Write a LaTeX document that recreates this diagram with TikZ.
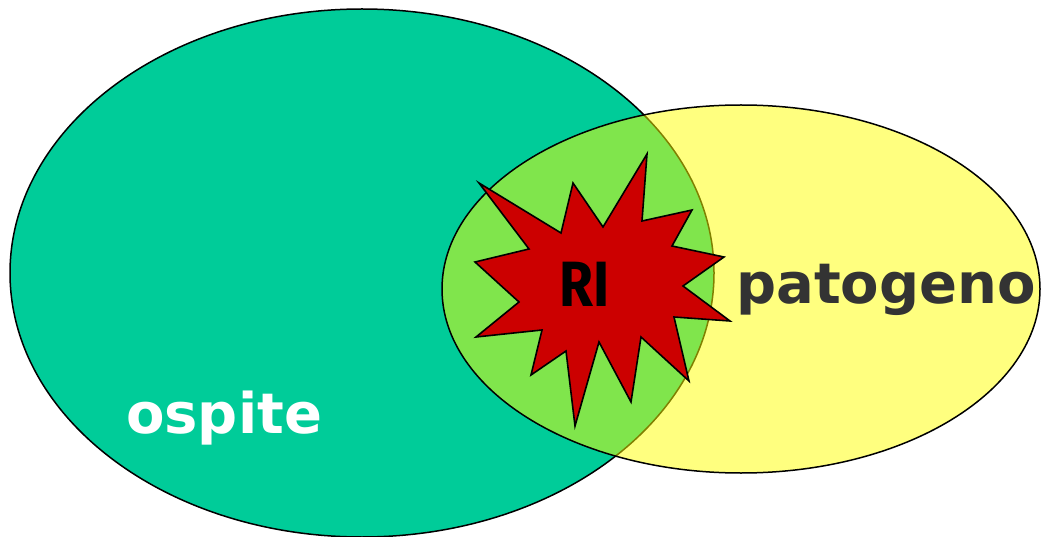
\documentclass[tikz,border=0pt]{standalone}
\usepackage{fontspec}
\setmainfont{DejaVu Sans}
\newfontfamily\starfont{Fira Sans}
\definecolor{hostgreen}{RGB}{0,204,153}
\definecolor{pathyellow}{RGB}{255,255,0}
\definecolor{burstred}{RGB}{204,0,0}
\definecolor{labelgray}{RGB}{51,51,51}
\begin{document}
\begin{tikzpicture}[x=1pt,y=-1pt,
  outline/.style={draw=black,line width=1.5pt},
  burst/.style={draw=black,line width=1.6pt,fill=burstred,line join=miter},
  biglabel/.style={inner sep=0pt,font=\bfseries\fontsize{56}{60}\selectfont}]
\useasboundingbox (0,0) rectangle (1041,537);
% host set
\fill[hostgreen] (362,273) ellipse [x radius=352,y radius=264];
\draw[outline] (362,273) ellipse [x radius=352,y radius=264];
% pathogen set, half transparent over the host
\fill[pathyellow,fill opacity=0.5] (741,289) ellipse [x radius=299,y radius=184];
\draw[outline] (741,289) ellipse [x radius=299,y radius=184];
% immune response burst
\draw[burst] (479,183) -- (561,233) -- (573,183) -- (603,227) -- (647,154)
  -- (642,221) -- (692,210) -- (672,246) -- (724,257) -- (683,286)
  -- (730,321) -- (674,317) -- (689,381) -- (641,337) -- (631,402)
  -- (599,342) -- (575,426) -- (566,351) -- (531,375) -- (542,330)
  -- (476,337) -- (519,302) -- (475,262) -- (529,249) -- cycle;
% labels
\node[inner sep=0pt,font=\starfont\bfseries\fontsize{64}{66}\selectfont] (ri) at (585,284) {\scalebox{0.86}[1]{RI}};
\node[biglabel,text=labelgray,anchor=base west] (patogeno) at (736,303) {patogeno};
\node[biglabel,text=white,anchor=base west] (ospite) at (126,433) {ospite};
\end{tikzpicture}
\end{document}
